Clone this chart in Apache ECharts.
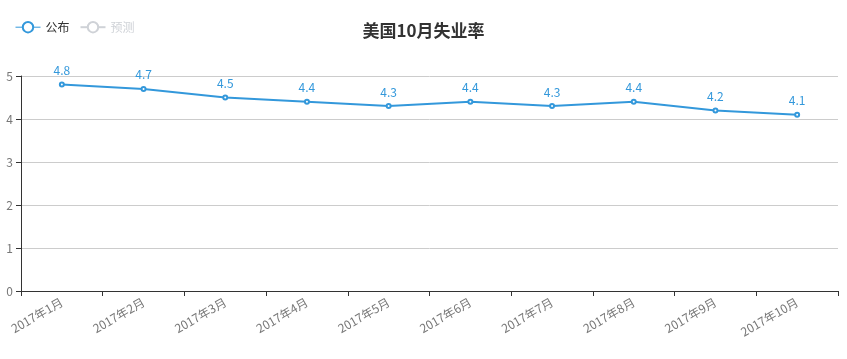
<!DOCTYPE html>
<html><head><meta charset="utf-8">
<script src="https://cdn.jsdelivr.net/npm/echarts@6/dist/echarts.min.js"></script>
<style>html,body{margin:0;padding:0;background:#fff}#c{width:847px;height:359px}</style>
</head><body><div id="c"></div>
<script>
const categories = ['2017年1月','2017年2月','2017年3月','2017年4月','2017年5月','2017年6月','2017年7月','2017年8月','2017年9月','2017年10月'];
const published = [4.8, 4.7, 4.5, 4.4, 4.3, 4.4, 4.3, 4.4, 4.2, 4.1];
const forecast = [];
const yTicks = [0, 1, 2, 3, 4, 5];

const chart = echarts.init(document.getElementById('c'));
chart.setOption({
  animation: false,
  color: ['#3398DB', '#cccccc'],
  textStyle: { fontFamily: '"Noto Sans CJK SC", "Noto Sans", sans-serif' },
  title: {
    text: '美国10月失业率', left: 'center', top: 17,
    textStyle: { fontSize: 17, fontWeight: 'bold', color: '#333' }
  },
  legend: {
    left: 10, top: 16, itemWidth: 25, itemHeight: 13, itemGap: 10,
    textStyle: { fontSize: 12, color: '#333' },
    lineStyle: { width: 1 },
    itemStyle: { borderWidth: 1 },
    selected: { '预测': false },
    data: ['公布', '预测']
  },
  grid: { left: 21, right: 9, top: 76, bottom: 68 },
  xAxis: {
    type: 'category', data: categories, boundaryGap: true,
    axisLine: { lineStyle: { color: '#333' } },
    axisTick: { show: true, alignWithLabel: false, lineStyle: { color: '#333' } },
    axisLabel: { rotate: 30, color: '#777', fontSize: 12, margin: 10 }
  },
  yAxis: {
    type: 'value', min: yTicks[0], max: yTicks[yTicks.length - 1], interval: 1,
    axisLine: { show: true, lineStyle: { color: '#333' } },
    axisTick: { show: true, lineStyle: { color: '#333' } },
    axisLabel: { color: '#777', fontSize: 12 },
    splitLine: { lineStyle: { color: '#ccc' } }
  },
  series: [
    {
      name: '公布', type: 'line', data: published,
      symbol: 'emptyCircle', symbolSize: 4,
      lineStyle: { width: 2, color: '#3398DB' },
      itemStyle: { color: '#3398DB' },
      label: { show: true, position: 'top', color: '#3398DB', fontSize: 12 }
    },
    {
      name: '预测', type: 'line', data: forecast,
      symbol: 'emptyCircle', symbolSize: 4
    }
  ]
});
</script></body></html>
